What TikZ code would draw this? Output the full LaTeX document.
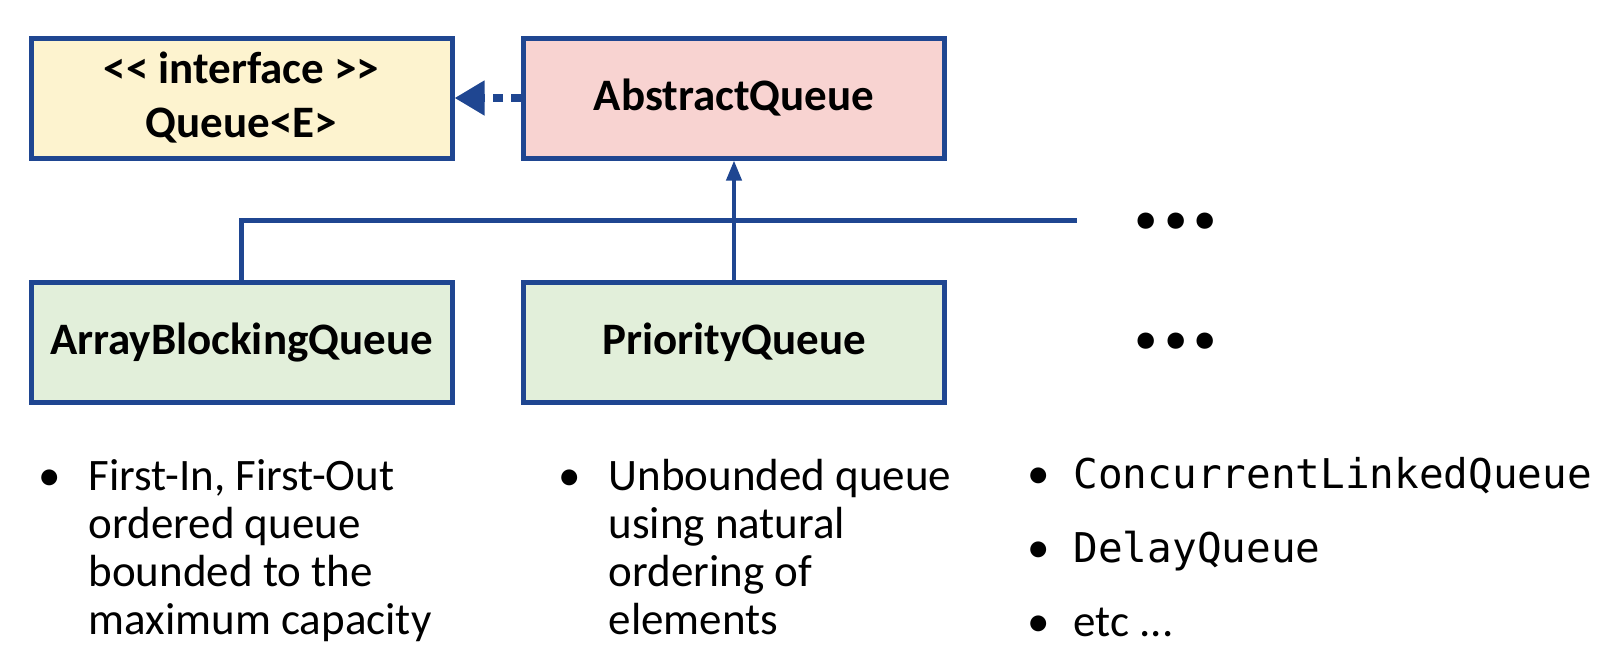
\documentclass[tikz,border=0pt]{standalone}
\usepackage{fontspec}
\newfontfamily\calibri{Carlito}
\newfontfamily\consolas{DejaVu Sans Mono}
\usetikzlibrary{arrows.meta}
\definecolor{umlblue}{RGB}{31,70,145}
\definecolor{ifyellow}{RGB}{253,243,207}
\definecolor{abspink}{RGB}{248,211,209}
\definecolor{implgreen}{RGB}{226,239,218}

\begin{document}
\begin{tikzpicture}[x=1pt,y=-1pt,
	cls/.style={draw=umlblue,line width=5pt,minimum width=421pt,minimum height=120pt,
		inner sep=0pt,align=center,font=\calibri\fontsize{45}{54}\selectfont\bfseries},
	note/.style={anchor=base west,inner sep=0pt,font=\calibri\fontsize{45}{48}\selectfont},
	more/.style={inner sep=0pt,font=\calibri\fontsize{110}{110}\selectfont\bfseries},
	link/.style={umlblue,line width=4pt}]
	\useasboundingbox (0,0) rectangle (1600,656);
	\node[cls,fill=ifyellow] (queue) at (241.5,98) {<< interface >>\\Queue<E>};
	\node[cls,fill=abspink] (absq) at (734,98) {AbstractQueue};
	\node[cls,fill=implgreen] (arrq) at (241.5,342.5) {ArrayBlockingQueue};
	\node[cls,fill=implgreen] (prioq) at (734,342.5) {PriorityQueue};
	\node[more] (dotsa) at (1176,221) {...};
	\node[more] (dotsb) at (1176,341) {...};
	\coordinate (barend) at (1077,220);
	\draw[link,line width=8pt,dash pattern=on 10pt off 8pt,-{Triangle[length=30pt,width=33pt]}] (absq.west) -- (queue.east);
	\draw[link,line width=5pt] (arrq.north) |- (barend);
	\draw[link,-{Triangle[length=20pt,width=15pt]}] (prioq.north) -- (absq.south);
	\node[note] (arrnote) at (38,490) {\begin{tabular}[t]{@{}l@{\hspace{28pt}}l@{}}
		\textbullet & First-In, First-Out\\
		& ordered queue\\
		& bounded to the\\
		& maximum capacity
	\end{tabular}};
	\node[note] (prionote) at (558,490) {\begin{tabular}[t]{@{}l@{\hspace{28pt}}l@{}}
		\textbullet & Unbounded queue\\
		& using natural\\
		& ordering of\\
		& elements
	\end{tabular}};
	\node[note] (othernote) at (1027,488) {\begin{tabular}[t]{@{}l@{\hspace{24pt}}l@{}}
		\textbullet & {\consolas\fontsize{41}{48}\selectfont ConcurrentLinkedQueue}\\[26pt]
		\textbullet & {\consolas\fontsize{41}{48}\selectfont DelayQueue}\\[26pt]
		\textbullet & etc ...
	\end{tabular}};
\end{tikzpicture}
\end{document}
